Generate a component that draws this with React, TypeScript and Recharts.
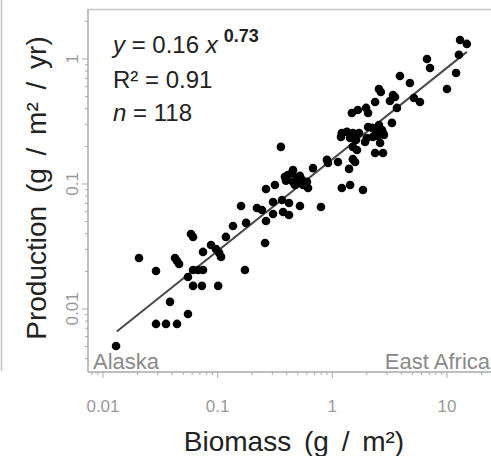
import React from 'react';
import { ScatterChart, Scatter, XAxis, YAxis } from 'recharts';

// Biomass (g/m2) of each site
const biomass: number[] = [
  13.0, 14.9, 12.7, 12.0, 10.0, 6.69, 7.11, 3.89, 4.75, 5.15, 5.81, 3.66,
  2.55, 2.65, 3.38, 3.52, 3.18, 2.36, 3.31, 2.05, 2.22, 2.55, 2.71, 2.77,
  2.36, 2.26, 2.61, 2.82, 2.36, 2.77, 1.48, 1.67, 1.97, 2.05, 1.21, 1.34,
  1.51, 1.43, 1.61, 1.93, 2.0, 1.51, 1.64, 1.51, 1.58, 1.4, 1.21, 1.43,
  1.85, 1.19, 1.12, 0.916, 0.897, 0.678, 0.796, 0.522, 0.454, 0.445, 0.386, 0.41,
  0.492, 0.543, 0.601, 0.454, 0.502, 0.555, 0.614, 0.472, 0.356, 0.316, 0.264, 0.304,
  0.364, 0.419, 0.2435, 0.304, 0.372, 0.419, 0.264, 0.259, 0.22, 0.16, 0.177, 0.136,
  0.118, 0.173, 0.0585, 0.061, 0.0875, 0.0966, 0.107, 0.103, 0.0745, 0.061, 0.0674, 0.0745,
  0.0551, 0.061, 0.0729, 0.101, 0.0206, 0.029, 0.0425, 0.0442, 0.0461, 0.0384, 0.0551, 0.029,
  0.0354, 0.0442, 0.013, 0.522, 0.394, 2.5, 1.71,
];

// Production (g/m2/yr) of each site
const production: number[] = [
  1.42, 1.32, 1.08, 0.773, 0.575, 1.0, 0.847, 0.731, 0.643, 0.488, 0.453, 0.406,
  0.575, 0.545, 0.515, 0.497, 0.461, 0.453, 0.308, 0.286, 0.281, 0.296, 0.27, 0.256,
  0.27, 0.238, 0.213, 0.247, 0.177, 0.177, 0.37, 0.391, 0.406, 0.37, 0.256, 0.261,
  0.256, 0.233, 0.225, 0.217, 0.233, 0.198, 0.187, 0.158, 0.15, 0.132, 0.0929, 0.0982,
  0.0895, 0.238, 0.15, 0.147, 0.156, 0.134, 0.0655, 0.0667, 0.129, 0.122, 0.114, 0.118,
  0.112, 0.108, 0.104, 0.104, 0.102, 0.0982, 0.0929, 0.0982, 0.198, 0.0982, 0.0912, 0.0718,
  0.0745, 0.0705, 0.0619, 0.0575, 0.0597, 0.0565, 0.0506, 0.0337, 0.0643, 0.0667, 0.0488, 0.0461,
  0.0377, 0.0205, 0.0398, 0.0377, 0.0325, 0.0302, 0.0261, 0.0281, 0.0286, 0.0205, 0.0205, 0.0205,
  0.018, 0.0153, 0.0153, 0.0153, 0.0256, 0.0201, 0.0256, 0.0242, 0.0229, 0.0114, 0.00912, 0.00759,
  0.00759, 0.00759, 0.00506, 0.116, 0.106, 0.242, 0.256,
];

// Fitted line end points
const fitX: number[] = [0.0132, 14.9];
const fitY: number[] = [0.0066, 1.14];

const xMajor: number[] = [0.01, 0.1, 1, 10];
const xTicks: number[] = [
  0.008, 0.009, 0.01, 0.02, 0.03, 0.04, 0.05, 0.06, 0.07, 0.08, 0.09, 0.1,
  0.2, 0.3, 0.4, 0.5, 0.6, 0.7, 0.8, 0.9, 1, 2, 3, 4, 5, 6, 7, 8, 9, 10, 20,
];
const yMajor: number[] = [0.01, 0.1, 1];
const yTicks: number[] = [
  0.004, 0.005, 0.006, 0.007, 0.008, 0.009, 0.01, 0.02, 0.03, 0.04, 0.05, 0.06,
  0.07, 0.08, 0.09, 0.1, 0.2, 0.3, 0.4, 0.5, 0.6, 0.7, 0.8, 0.9, 1, 2,
];

const points = biomass.map((b, i) => ({ x: b, y: production[i] }));
const fitLine = fitX.map((x, i) => ({ x, y: fitY[i] }));

const FONT = '"Liberation Sans", Arial, Helvetica, sans-serif';
const AXIS_GRAY = '#aaaaaa';
const TICK_TEXT = '#9a9a9a';

const isMajor = (v: number, list: number[]) => list.some((m) => Math.abs(m - v) < 1e-9);

const XTick = (props: any) => {
  const { x, y, payload } = props;
  const major = isMajor(payload.value, xMajor);
  return (
    <g>
      <line x1={x} x2={x} y1={y} y2={y + (major ? 6 : 3)} stroke={AXIS_GRAY} strokeWidth={1} />
      {major && (
        <text x={x} y={y + 40} textAnchor="middle" fontSize={17} fill={TICK_TEXT} fontFamily={FONT}>
          {String(payload.value)}
        </text>
      )}
    </g>
  );
};

const YTick = (props: any) => {
  const { x, y, payload } = props;
  const major = isMajor(payload.value, yMajor);
  const tx = x - 10;
  return (
    <g>
      <line x1={x} x2={x - (major ? 6 : 3)} y1={y} y2={y} stroke={AXIS_GRAY} strokeWidth={1} />
      {major && (
        <text
          x={tx}
          y={y}
          transform={`rotate(-90, ${tx}, ${y})`}
          textAnchor="middle"
          fontSize={17}
          fill={TICK_TEXT}
          fontFamily={FONT}
        >
          {String(payload.value)}
        </text>
      )}
    </g>
  );
};

const Dot = (props: any) => <circle cx={props.cx} cy={props.cy} r={4.3} fill="#000" />;
const NoDot = () => <g />;

export default function App() {
  return (
    <div style={{ position: 'absolute', left: 0, top: 0, width: 491, height: 456, background: '#fff' }}>
      <ScatterChart width={491} height={456} margin={{ top: 9, right: 0, bottom: 0, left: 0 }}>
        <XAxis
          dataKey="x"
          type="number"
          scale="log"
          domain={[0.0074, 24.2]}
          allowDataOverflow
          ticks={xTicks}
          interval={0}
          height={84}
          tickSize={0}
          tickMargin={0}
          tickLine={false}
          axisLine={{ stroke: AXIS_GRAY, strokeWidth: 1.5 }}
          tick={<XTick />}
        />
        <YAxis
          dataKey="y"
          type="number"
          scale="log"
          domain={[0.00313, 2.512]}
          allowDataOverflow
          ticks={yTicks}
          interval={0}
          width={88}
          tickSize={0}
          tickMargin={0}
          tickLine={false}
          axisLine={{ stroke: AXIS_GRAY, strokeWidth: 1.5 }}
          tick={<YTick />}
        />
        <Scatter
          data={fitLine}
          line={{ stroke: '#4a4a4a', strokeWidth: 2 }}
          shape={<NoDot />}
          isAnimationActive={false}
        />
        <Scatter data={points} shape={<Dot />} isAnimationActive={false} />
      </ScatterChart>
      <svg
        width={491}
        height={456}
        style={{ position: 'absolute', left: 0, top: 0, pointerEvents: 'none', whiteSpace: 'pre' }}
        fontFamily={FONT}
      >
        <line x1={1.5} x2={1.5} y1={0} y2={371} stroke="#c4c4c4" strokeWidth={1.5} />
        <line x1={88} x2={491} y1={9.5} y2={9.5} stroke="#c8c8c8" strokeWidth={1.5} />
        <text x={113} y={53} fontSize={24} fill="#222">
          <tspan fontStyle="italic">y</tspan>
          <tspan> = 0.16 </tspan>
          <tspan fontStyle="italic">x</tspan>
          <tspan dx={6} dy={-11} fontSize={18} fontWeight="bold">0.73</tspan>
        </text>
        <text x={113} y={88} fontSize={24} fill="#222">R² = 0.91</text>
        <text x={113} y={121} fontSize={24} fill="#222">
          <tspan fontStyle="italic">n</tspan>
          <tspan> = 118</tspan>
        </text>
        <text x={93} y={369} fontSize={22} fill="#8a8a8a">Alaska</text>
        <text x={490} y={369} fontSize={22} fill="#8a8a8a" textAnchor="end">East Africa</text>
        <text x={294} y={451} fontSize={28} fill="#222" textAnchor="middle" wordSpacing={5}>
          Biomass (g / m²)
        </text>
        <text transform="rotate(-90)" x={-188} y={46} fontSize={28} fill="#222" textAnchor="middle" wordSpacing={5}>
          Production (g / m² / yr)
        </text>
      </svg>
    </div>
  );
}
